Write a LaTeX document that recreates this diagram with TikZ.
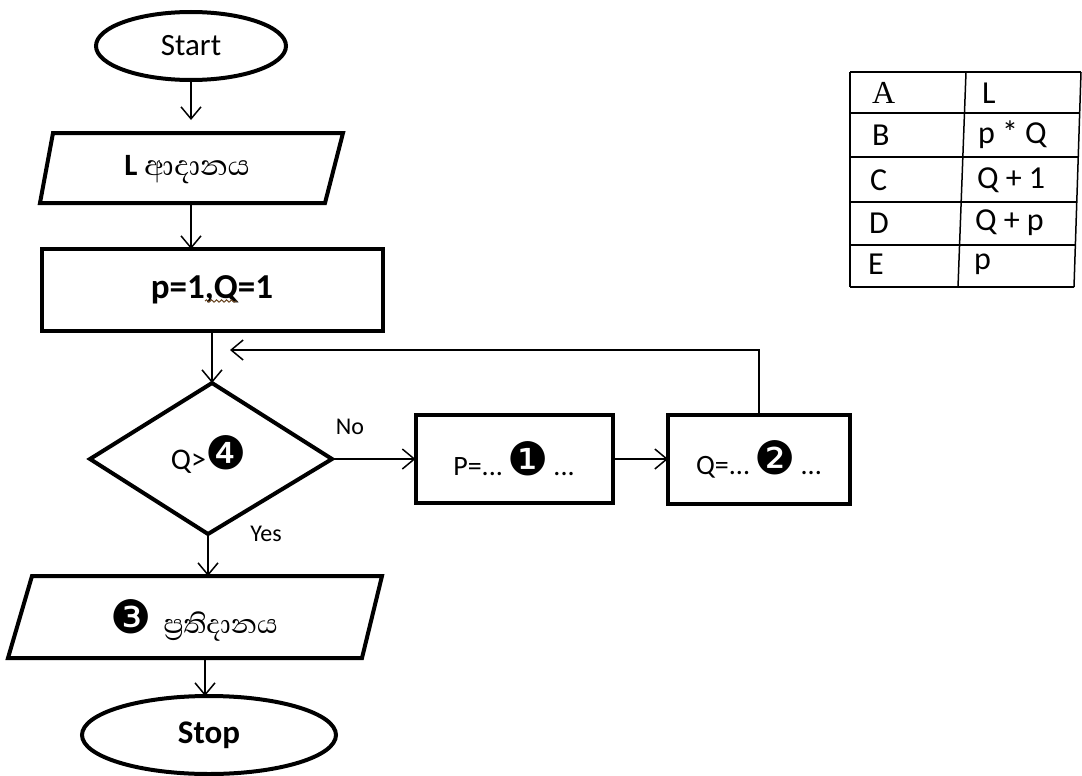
\documentclass[tikz,border=0pt]{standalone}
\usepackage{fontspec}
\setmainfont{Carlito}
\newfontfamily\sinhfont[Script=Sinhala]{Abhaya Libre}
\newfontfamily\dvs{DejaVu Sans}
\newfontfamily\tms{Liberation Serif}
\usetikzlibrary{shapes.geometric,arrows.meta,decorations.pathmorphing}
\newcommand{\circnum}[1]{{\dvs\fontsize{46}{46}\selectfont #1}}
\begin{document}
\begin{tikzpicture}[x=1pt,y=-1pt,
  box/.style={draw, line width=4pt, rectangle, inner sep=0pt, outer sep=0pt},
  oval/.style={draw, line width=4pt, ellipse, inner sep=0pt, outer sep=0pt},
  conn/.style={line width=1.5pt, -{Straight Barb[length=12pt,width=20pt,line width=1.5pt]}},
  heavy/.style={line width=4pt, line join=miter},
  txt/.style={inner sep=0pt, outer sep=0pt},
  tline/.style={line width=1.5pt}
]
\useasboundingbox (0,0) rectangle (1082,776);

% Start
\node[oval, minimum width=190pt, minimum height=68pt, font=\fontsize{31}{36}\selectfont] (start) at (191,46) {Start};

% Input parallelogram
\coordinate (inTL) at (53,133);
\coordinate (inTR) at (343,133);
\coordinate (inBR) at (325,203);
\coordinate (inBL) at (40,203);
\coordinate (inTop) at (191,133);
\coordinate (inBot) at (191,203);
\draw[heavy] (inTL) -- (inTR) -- (inBR) -- (inBL) -- cycle;
\node[txt] (intext) at (187,170) {\fontsize{31}{36}\selectfont\textbf{L} {\sinhfont\fontsize{36}{42}\selectfont ආදානය}};

\draw[conn, shorten >=13pt] (start.south) -- (inTop);

% Initialisation
\node[box, minimum width=341pt, minimum height=82pt, font=\bfseries\fontsize{35}{42}\selectfont] (init) at (212,290) {p=1,Q=1};
\draw[conn] (inBot) -- (inBot |- init.north);
\draw[line width=1pt, color=black!45!brown, decorate, decoration={snake, amplitude=1.2pt, segment length=5pt}] (205,301) -- (237,301);

% Decision diamond
\coordinate (dT) at (212,383);
\coordinate (dR) at (332,459);
\coordinate (dB) at (208,534);
\coordinate (dL) at (90,459);
\draw[heavy] (dT) -- (dR) -- (dB) -- (dL) -- cycle;
\node[txt] (cond) at (209,455) {\fontsize{30}{36}\selectfont Q>\circnum{❹}};
\draw[conn] (init.south) -- (dT);

% Process boxes
\node[box, minimum width=197pt, minimum height=88pt, font=\fontsize{28}{34}\selectfont] (pbox) at (514,459) {P=...\,\circnum{❶}\,...};
\node[box, minimum width=182pt, minimum height=89pt, font=\fontsize{28}{34}\selectfont] (qbox) at (759,459) {Q=...\,\circnum{❷}\,...};
\draw[conn] (dR) -- (pbox.west);
\draw[conn] (pbox.east) -- (qbox.west);
\coordinate (loopend) at (230,350);
\draw[conn] (qbox.north) -- (qbox.north |- loopend) -- (loopend);

\node[txt, font=\fontsize{24}{28}\selectfont] (nolbl) at (350,427) {No};
\node[txt, font=\fontsize{24}{28}\selectfont] (yeslbl) at (266,534) {Yes};

% Output parallelogram
\coordinate (oTL) at (32,576);
\coordinate (oTR) at (382,576);
\coordinate (oBR) at (362,658);
\coordinate (oBL) at (8,658);
\coordinate (oTop) at (208,576);
\coordinate (oBot) at (205,658);
\draw[heavy] (oTL) -- (oTR) -- (oBR) -- (oBL) -- cycle;
\node[txt] (outtext) at (194,620) {\circnum{❸}\hspace{12pt}{\sinhfont\fontsize{34}{40}\selectfont ප්^^^^200dරතිදානය}};
\draw[conn] (dB) -- (oTop);

% Stop
\node[oval, minimum width=254pt, minimum height=78pt, font=\bfseries\fontsize{33}{40}\selectfont] (stop) at (209,735) {Stop};
\draw[conn] (oBot) -- (oBot |- stop.north);

% Table
\draw[tline] (850,72) -- (1081,72);
\draw[tline] (850,113) -- (1079,113);
\draw[tline] (850,157) -- (1078,157);
\draw[tline] (850,202) -- (1077,202);
\draw[tline] (850,245) -- (1075,245);
\draw[tline] (850,287) -- (1074,287);
\draw[tline] (850,72) -- (850,287);
\draw[tline] (966,72) -- (958,287);
\draw[tline] (1081,72) -- (1074,287);
\begin{scope}[every node/.style={txt, anchor=west, font=\fontsize{32}{38}\selectfont}]
\node (tA) at (872,93) {\tms A};
\node (tAv) at (982,93) {L};
\node (tB) at (872,135) {B};
\node (tBv) at (978,135) {p * Q};
\node (tC) at (870,180) {C};
\node (tCv) at (977,180) {Q + 1};
\node (tD) at (869,223) {D};
\node (tDv) at (975,223) {Q + p};
\node (tE) at (868,264) {E};
\node (tEv) at (974,264) {p};
\end{scope}
\end{tikzpicture}
\end{document}
